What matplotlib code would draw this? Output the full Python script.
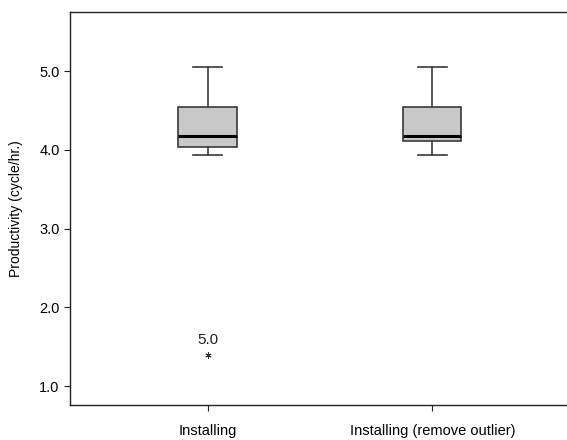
import matplotlib
import matplotlib.pyplot as plt

# values
groups = ['Installing', 'Installing (remove outlier)']
whislo = [3.93, 3.93]
q1 = [4.03, 4.11]
med = [4.17, 4.17]
q3 = [4.54, 4.54]
whishi = [5.05, 5.05]
outlier_value = 1.39
outlier_label = '5.0'
yticks = [1.0, 2.0, 3.0, 4.0, 5.0]

matplotlib.rcParams.update({'font.family': ['Liberation Sans', 'DejaVu Sans'], 'font.size': 9.5})

stats = []
for i in range(len(groups)):
    stats.append({'whislo': whislo[i], 'q1': q1[i], 'med': med[i], 'q3': q3[i],
                  'whishi': whishi[i], 'fliers': [], 'label': groups[i]})

fig = plt.figure(figsize=(5.67, 4.4), dpi=100)
ax = fig.add_axes([70 / 567, 35 / 440, 1 - 70 / 567, (405 - 12) / 440])

ax.bxp(stats, positions=[1, 2], widths=0.26, patch_artist=True, showfliers=False,
       boxprops=dict(facecolor='#c8c8c8', edgecolor='#3a3a3a', linewidth=1.2),
       medianprops=dict(color='black', linewidth=2.2),
       whiskerprops=dict(color='#3a3a3a', linewidth=1.2),
       capprops=dict(color='#3a3a3a', linewidth=1.2),
       capwidths=0.13)

ax.plot([1], [outlier_value], marker=(6, 2, 0), color='#333333', markersize=4.5, mew=0.6, linestyle='none')
ax.text(1, outlier_value + 0.11, outlier_label, ha='center', va='bottom', fontsize=11, color='#222222')

ax.set_xlim(0.387, 2.6)
ax.set_ylim(0.76, 5.75)
ax.set_yticks(yticks)
ax.set_yticklabels(['%.1f' % v for v in yticks])
ax.set_ylabel('Productivity (cycle/hr.)', fontsize=10, labelpad=12)
ax.spines['right'].set_visible(False)
for s in ['left', 'top', 'bottom']:
    ax.spines[s].set_color('#222222')
    ax.spines[s].set_linewidth(1.0)
ax.tick_params(axis='x', length=4, color='#222222', labelsize=10.5, pad=10)
ax.tick_params(axis='y', length=4, color='#222222', labelsize=10.5)

plt.savefig('out.png', dpi=100)
